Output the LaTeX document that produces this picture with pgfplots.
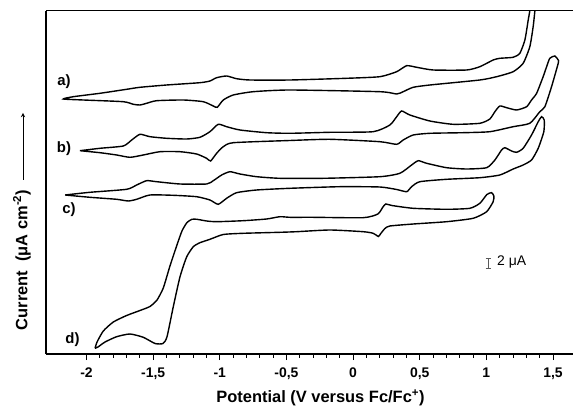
\documentclass[border=0pt]{standalone}
\usepackage{pgfplots}
\pgfplotsset{compat=1.18}
\usepackage{fontspec}
\setmainfont{Liberation Sans}
\pgfplotsset{cv/.style={black, line width=1.4bp, smooth, tension=0.35, mark=none}}
\begin{document}
\begin{tikzpicture}
\useasboundingbox (-46bp,-55bp) rectangle (527bp,354bp);
\begin{axis}[
  at={(0,0)}, anchor=south west,
  scale only axis, width=527bp, height=343.3bp,
  xmin=-2.304, xmax=1.650, ymin=0, ymax=68.66,
  axis x line=box, axis y line=left,
  axis line style={-, line width=1.2bp},
  xtick pos=bottom,
  ytick=\empty,
  xtick={-2,-1.5,-1,-0.5,0,0.5,1,1.5},
  xticklabels={-2,{-1,5},-1,{-0,5},0,{0,5},1,{1,5}},
  minor x tick num=4,
  tick align=outside,
  major tick length=6bp, minor tick length=3.5bp,
  every tick/.style={black, line width=1bp},
  xticklabel style={font=\fontsize{14}{16}\selectfont\bfseries, yshift=-4bp},
  clip=true,
]
% curve a
\addplot[cv] coordinates {
(1.334,70.8) (1.326,68.66) (1.314,66.8) (1.289,62.8) (1.251,60.14) (1.201,59.34) (1.101,59.14) (1.051,58.8) (0.951,57.46) (0.852,56.8) (0.601,56.8) (0.477,57.34) (0.402,57.66) (0.327,56.46) (0.201,55.46) (-0.049,55.14) (-0.474,54.8) (-0.774,54.8) (-0.874,55.06) (-0.949,55.6) (-1.024,55.26) (-1.074,54.6) (-1.149,54.26) (-1.399,53.8) (-1.599,53.34) (-1.699,52.94) (-1.899,52.14) (-2.099,51.46) (-2.174,51.0)
(-2.024,50.8) (-1.724,50.46) (-1.649,49.94) (-1.599,49.8) (-1.549,50.14) (-1.474,50.66) (-1.274,50.8) (-1.124,50.46) (-1.049,49.6) (-1.019,49.34) (-0.974,50.8) (-0.899,51.8) (-0.749,52.46) (-0.474,52.8) (0.201,52.46) (0.327,52.0) (0.376,52.46) (0.451,53.34) (0.576,53.8) (0.951,54.8) (1.077,55.46) (1.201,56.46) (1.276,58.14) (1.326,61.46) (1.351,65.46) (1.364,68.66) (1.371,70.8)
};
% curve b
\addplot[cv] coordinates {
(-2.049,40.66) (-1.899,41.14) (-1.724,41.6) (-1.661,42.8) (-1.599,43.94) (-1.524,43.46) (-1.399,43.14) (-1.249,43.0) (-1.149,43.34) (-1.074,44.46) (-1.012,45.94) (-0.949,45.46) (-0.849,44.8) (-0.649,44.26) (-0.474,44.14) (-0.174,44.34) (0.151,44.46) (0.276,45.8) (0.327,47.46) (0.364,48.6) (0.426,47.8) (0.576,46.6) (0.751,45.94) (0.951,46.14) (1.026,47.0) (1.064,48.46) (1.101,49.6) (1.152,49.26) (1.227,48.8) (1.302,49.46) (1.339,50.8) (1.377,52.14) (1.426,55.46) (1.452,57.46) (1.476,59.14) (1.514,59.6) (1.539,58.8) (1.539,58.14) (1.489,53.46) (1.439,49.46) (1.401,48.46) (1.326,46.14) (1.201,45.46) (1.026,44.46) (0.826,44.26) (0.576,44.14) (0.451,43.8) (0.376,42.8) (0.327,41.94) (0.201,42.46) (-0.174,42.94) (-0.474,42.7) (-0.899,42.26) (-0.974,41.46) (-1.024,40.14) (-1.069,38.6) (-1.099,39.14) (-1.174,40.0) (-1.299,40.46) (-1.449,40.46) (-1.574,39.8) (-1.674,39.34) (-1.774,39.8) (-1.899,40.26) (-2.049,40.66)
};
% curve c
\addplot[cv] coordinates {
(-2.161,31.8) (-1.974,32.34) (-1.699,32.94) (-1.624,33.8) (-1.549,34.66) (-1.474,34.46) (-1.299,34.0) (-1.099,34.0) (-1.049,34.66) (-0.986,35.8) (-0.924,36.46) (-0.849,36.0) (-0.724,35.46) (-0.549,35.14) (-0.224,35.14) (0.201,35.46) (0.351,36.14) (0.439,37.8) (0.489,38.66) (0.552,38.14) (0.702,37.26) (0.852,37.0) (1.002,37.26) (1.064,38.8) (1.114,40.8) (1.139,41.26) (1.189,40.6) (1.227,40.34) (1.276,41.14) (1.339,43.8) (1.389,46.46) (1.414,47.46) (1.434,46.8) (1.431,44.46) (1.389,41.14) (1.339,38.8) (1.276,37.8) (1.201,37.0) (1.101,35.8) (0.951,35.26) (0.702,34.94) (0.501,34.46) (0.439,33.46) (0.402,32.46) (0.327,32.9) (0.201,33.4) (-0.099,33.46) (-0.474,33.14) (-0.724,32.8) (-0.874,32.26) (-0.949,31.14) (-1.012,29.94) (-1.074,30.8) (-1.174,31.46) (-1.349,31.74) (-1.524,31.8) (-1.624,30.94) (-1.687,30.6) (-1.774,30.94) (-1.974,31.34) (-2.161,31.8)
};
% curve d
\addplot[cv] coordinates {
(-1.936,1.14) (-1.921,2.4) (-1.874,4.6) (-1.799,6.4) (-1.699,7.7) (-1.599,8.7) (-1.524,9.5) (-1.471,10.8) (-1.424,13.2) (-1.374,17.6) (-1.324,21.6) (-1.284,24.6) (-1.246,26.3) (-1.209,26.94) (-1.171,26.94) (-1.099,26.6) (-1.024,26.46) (-0.824,26.66) (-0.649,27.0) (-0.549,27.46) (-0.474,27.34) (-0.299,27.34) (0.076,27.26) (0.186,28.0) (0.224,29.4) (0.246,30.0) (0.291,29.7) (0.451,29.14) (0.702,28.94) (0.876,29.14) (0.951,30.14) (1.004,31.9) (1.039,32.26) (1.056,31.6) (1.051,30.46) (1.002,28.46) (0.901,27.14) (0.702,26.46) (0.451,26.0) (0.276,25.6) (0.239,25.1) (0.205,24.0) (0.190,23.5) (0.151,24.14) (0.076,24.46) (-0.174,24.8) (-0.424,24.46) (-0.549,24.34) (-0.824,24.14) (-0.974,23.9) (-1.074,22.94) (-1.149,22.26) (-1.199,21.46) (-1.249,19.4) (-1.299,15.4) (-1.349,9.46) (-1.396,3.46) (-1.426,2.1) (-1.486,2.1) (-1.574,3.34) (-1.674,4.0) (-1.774,3.46) (-1.861,2.4) (-1.914,1.4) (-1.936,1.14)
};
\end{axis}
% annotations (bp relative to axis south west)
\begin{scope}[font=\fontsize{15}{17}\selectfont\bfseries]
\node at (18bp,272bp) {a)};
\node at (18bp,205bp) {b)};
\node at (23bp,144bp) {c)};
\node at (26.5bp,14bp) {d)};
\end{scope}
\draw[gray!70!black, line width=0.7bp] (442bp,86bp) -- (442bp,96bp) (439.5bp,86bp) -- (444.5bp,86bp) (439.5bp,96bp) -- (444.5bp,96bp);
\node[anchor=west, inner sep=0pt, font=\fontsize{14}{16}\selectfont] at (451bp,92bp) {2 μA};
\node[rotate=90, font=\fontsize{16.5}{18}\selectfont\bfseries] at (-24bp,94bp) {Current\ \ (μA cm\textsuperscript{-2})};
\draw[-stealth, line width=0.9bp] (-23bp,174bp) -- (-23bp,241bp);
\node[font=\fontsize{16.5}{18}\selectfont\bfseries] at (274.5bp,-44bp) {Potential (V versus Fc/Fc\textsuperscript{+})};
\end{tikzpicture}
\end{document}
